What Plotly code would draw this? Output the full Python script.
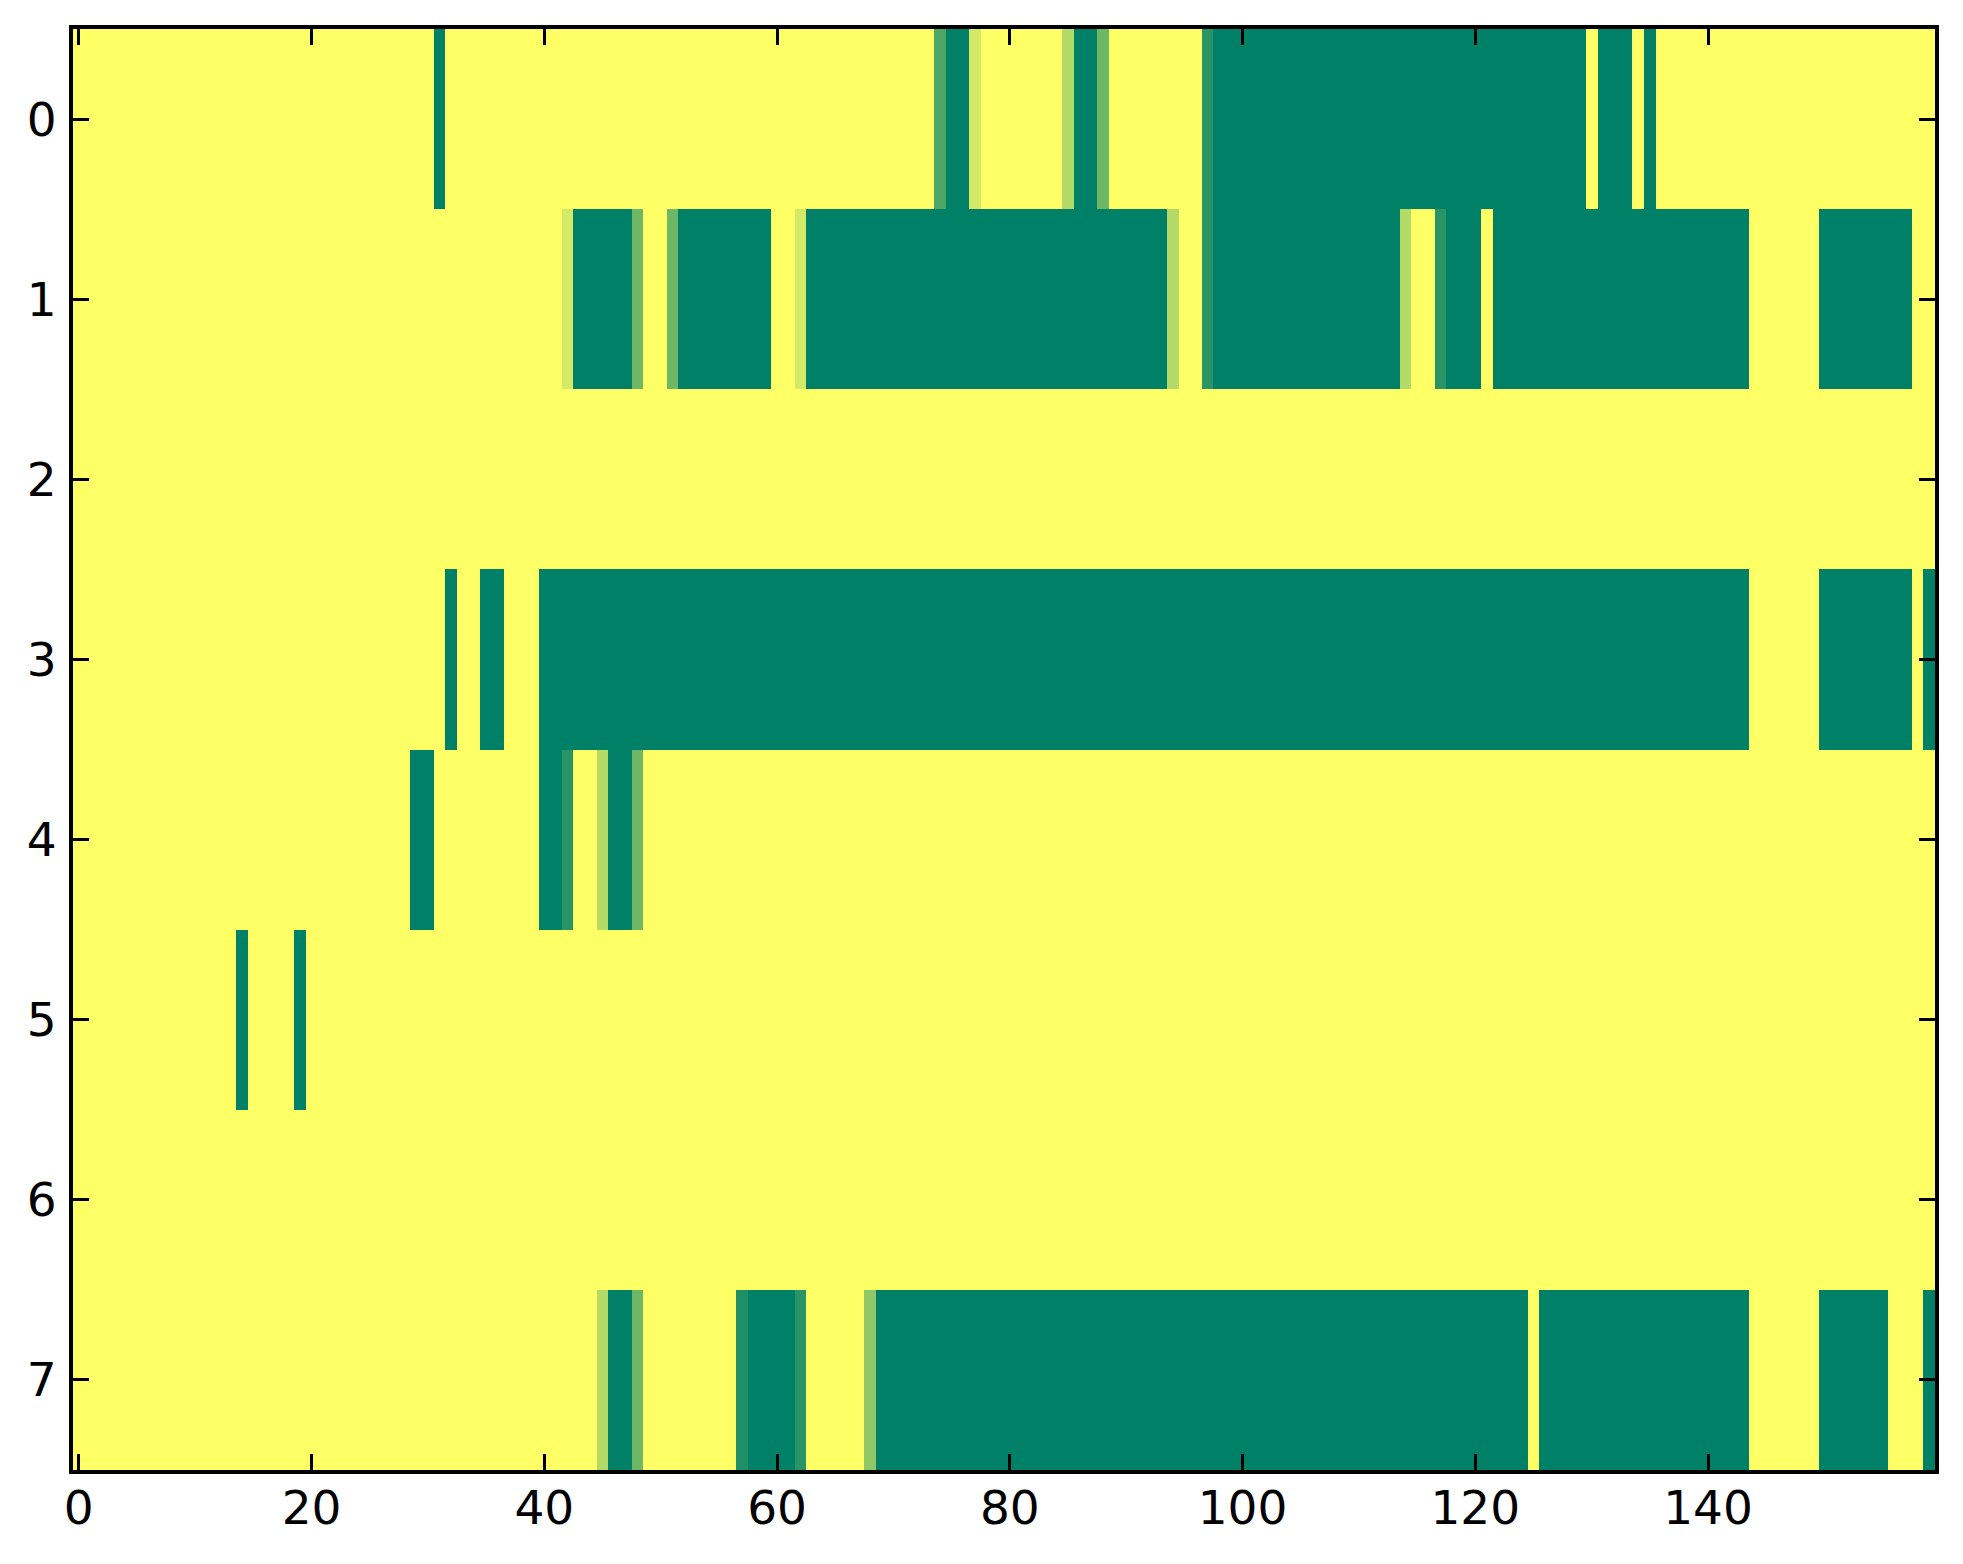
import plotly.graph_objects as go

# cell codes, 8 rows x 160 columns (20 per chunk)
# "." yellow (1.0), "#" green (0.0), letters are the in-between shades
LEVELS = {".": 1.0, "#": 0.0, "a": 0.83, "b": 0.7, "c": 0.56,
          "d": 0.43, "e": 0.3, "f": 0.16, "g": 0.12}

YEL = "...................."
GRN = "####################"

row_0 = [YEL, "...........#........", YEL, "..............e##a..",
         ".....b##d........f##", GRN, "##########.###.#....", YEL]
row_1 = [YEL, YEL, "..a#####d..d########", "..a#################",
         "##############b..f##", "##############b..f##",
         "#.##################", "####......########.."]
row_2 = [YEL] * 8
row_3 = [YEL, "............#..##...", GRN, GRN, GRN, GRN, GRN,
         "####......########.#"]
row_4 = [YEL, ".........##.........", "##f..b##d...........",
         YEL, YEL, YEL, YEL, YEL]
row_5 = ["..............#....#", YEL, YEL, YEL, YEL, YEL, YEL, YEL]
row_6 = [YEL] * 8
row_7 = [YEL, YEL, ".....b##d........g##", "##f.....c###########",
         GRN, GRN, "#####.##############", "####......######...#"]

rows = [row_0, row_1, row_2, row_3, row_4, row_5, row_6, row_7]
x_ticks = [0, 20, 40, 60, 80, 100, 120, 140]
y_ticks = [0, 1, 2, 3, 4, 5, 6, 7]

z = []
for r in rows:
    s = "".join(r)
    assert len(s) == 160, len(s)
    z.append([LEVELS[ch] for ch in s])

n_cols = len(z[0])

fig = go.Figure(go.Heatmap(
    z=z,
    x=list(range(n_cols)),
    y=list(range(len(z))),
    zmin=0, zmax=1,
    colorscale=[[0, "rgb(0,128,102)"], [1, "rgb(255,255,102)"]],
    showscale=False,
    hoverongaps=False,
))

axis_style = dict(
    showline=True, linecolor="black", linewidth=4, mirror="ticks",
    ticks="inside", ticklen=16, tickwidth=2.5, tickcolor="black",
    showgrid=False, zeroline=False,
    tickfont=dict(family="DejaVu Sans", size=47, color="black"),
)

fig.update_xaxes(range=[-0.5, n_cols - 0.5], tickvals=x_ticks,
                 ticklabelstandoff=-6, **axis_style)
fig.update_yaxes(range=[len(z) - 0.5, -0.5], tickvals=y_ticks,
                 ticklabelstandoff=3, **axis_style)

# page body has an 8px margin, so the figure is shifted a bit
fig.update_layout(
    width=1955, height=1556,
    margin=dict(l=65, r=28, t=21, b=94),
    paper_bgcolor="white", plot_bgcolor="white",
)

fig.write_html("out.html")
